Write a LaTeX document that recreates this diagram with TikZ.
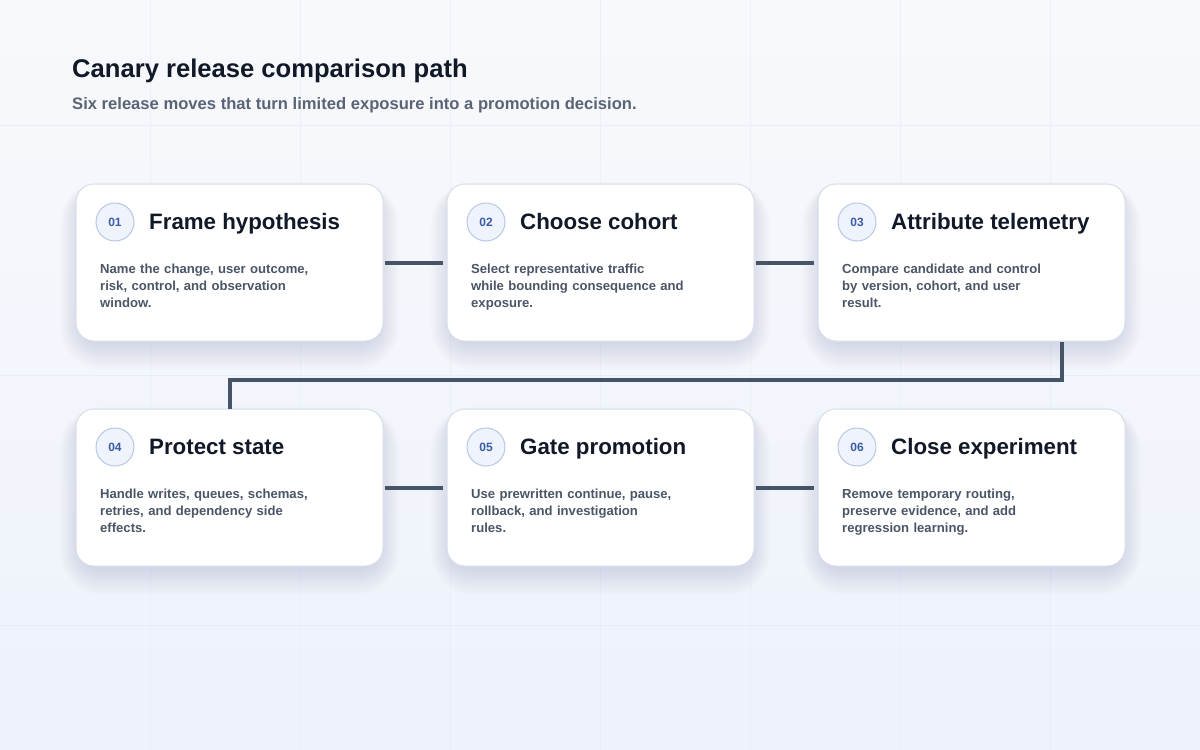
\documentclass[tikz,border=0pt]{standalone}
\usepackage{fontspec}
\setmainfont{Liberation Sans}
\usetikzlibrary{calc}
\definecolor{bgtop}{HTML}{F8F9FC}
\definecolor{bgbot}{HTML}{EDF2FB}
\definecolor{gridc}{HTML}{E4E8F0}
\definecolor{cardborder}{HTML}{D8DEE8}
\definecolor{shadowc}{HTML}{8A94B4}
\definecolor{titlec}{HTML}{111827}
\definecolor{subc}{HTML}{5B6475}
\definecolor{bodyc}{HTML}{4B5566}
\definecolor{numc}{HTML}{3B5CA6}
\definecolor{numfill}{HTML}{EEF3FC}
\definecolor{numborder}{HTML}{B8C7E6}
\definecolor{linkc}{HTML}{465467}
\tikzset{
  x=1pt,y=-1pt,
  card/.style={draw=cardborder, line width=1pt, fill=white, rounded corners=18pt,
    minimum width=307pt, minimum height=157pt, inner sep=0pt},
  numdot/.style={circle, draw=numborder, line width=1pt, fill=numfill, minimum size=38pt,
    inner sep=0pt, font=\bfseries\fontsize{12}{12}\selectfont, text=numc},
  cardtitle/.style={anchor=base west, inner sep=0pt, font=\bfseries\fontsize{22.3}{24}\selectfont, text=titlec},
  cardbody/.style={anchor=north west, inner sep=0pt, align=left, text width=240pt,
    font=\bfseries\fontsize{13.1}{17}\selectfont, text=bodyc},
  link/.style={draw=linkc, line width=4pt},
}
\newcommand{\cardshadow}[2]{%
  \foreach \s in {0,2,...,28} {
    \pgfmathsetmacro{\rc}{20+\s*0.8}
    \fill[shadowc, opacity=0.016, rounded corners=\rc pt]
      (#1-150-\s*0.7, #2-72-\s*0.3) rectangle (#1+150+\s*0.7, #2+82+\s*0.9);
  }
}
\begin{document}
\begin{tikzpicture}
\useasboundingbox (0,0) rectangle (1200,750);
\shade[top color=bgtop, bottom color=bgbot] (0,0) rectangle (1200,750);
\foreach \gx in {150,300,...,1050} \draw[gridc, line width=0.8pt, opacity=0.45] (\gx,0) -- (\gx,750);
\foreach \gy in {125,375,625} \draw[gridc, line width=0.8pt, opacity=0.6] (0,\gy) -- (1200,\gy);

\node[anchor=base west, inner sep=0pt, font=\bfseries\fontsize{25.6}{28}\selectfont, text=titlec] (title) at (72,77) {Canary release comparison path};
\node[anchor=base west, inner sep=0pt, font=\bfseries\fontsize{16.6}{18}\selectfont, text=subc] (subtitle) at (72,109) {Six release moves that turn limited exposure into a promotion decision.};

% shadows
\cardshadow{229.5}{262.5}
\cardshadow{600.5}{262.5}
\cardshadow{971.5}{262.5}
\cardshadow{229.5}{487.5}
\cardshadow{600.5}{487.5}
\cardshadow{971.5}{487.5}

% cards
\node[card] (c1) at (229.5,262.5) {};
\node[card] (c2) at (600.5,262.5) {};
\node[card] (c3) at (971.5,262.5) {};
\node[card] (c4) at (229.5,487.5) {};
\node[card] (c5) at (600.5,487.5) {};
\node[card] (c6) at (971.5,487.5) {};

% card contents
\foreach \n/\cx/\cy/\num/\ttl/\body in {
  c1/229.5/262.5/01/{Frame hypothesis}/{Name the change, user outcome,\\risk, control, and observation\\window.},
  c2/600.5/262.5/02/{Choose cohort}/{Select representative traffic\\while bounding consequence and\\exposure.},
  c3/971.5/262.5/03/{Attribute telemetry}/{Compare candidate and control\\by version, cohort, and user\\result.},
  c4/229.5/487.5/04/{Protect state}/{Handle writes, queues, schemas,\\retries, and dependency side\\effects.},
  c5/600.5/487.5/05/{Gate promotion}/{Use prewritten continue, pause,\\rollback, and investigation\\rules.},
  c6/971.5/487.5/06/{Close experiment}/{Remove temporary routing,\\preserve evidence, and add\\regression learning.}} {
  \node[numdot] (\n num) at (\cx-114.5,\cy-40.5) {\num};
  \node[cardtitle] (\n title) at (\cx-80.5,\cy-33) {\ttl};
  \node[cardbody] (\n body) at (\cx-129.5,\cy+1.5) {\body};
}

% connectors
\draw[link] (c1.east) ++(1,0) coordinate (a1) -- ($(c2.west)+(-4,0)$) coordinate (b1);
\draw[link] (c2.east) ++(1,0) coordinate (a2) -- ($(c3.west)+(-4,0)$) coordinate (b2);
\coordinate (c3out) at ($(c3.south west)!0.795!(c3.south east)$);
\draw[link] (c3out) -- ++(0,38) -| (c4.north);
\draw[link] (c4.east) ++(1,0) coordinate (a4) -- ($(c5.west)+(-4,0)$) coordinate (b4);
\draw[link] (c5.east) ++(1,0) coordinate (a5) -- ($(c6.west)+(-4,0)$) coordinate (b5);
\end{tikzpicture}
\end{document}
